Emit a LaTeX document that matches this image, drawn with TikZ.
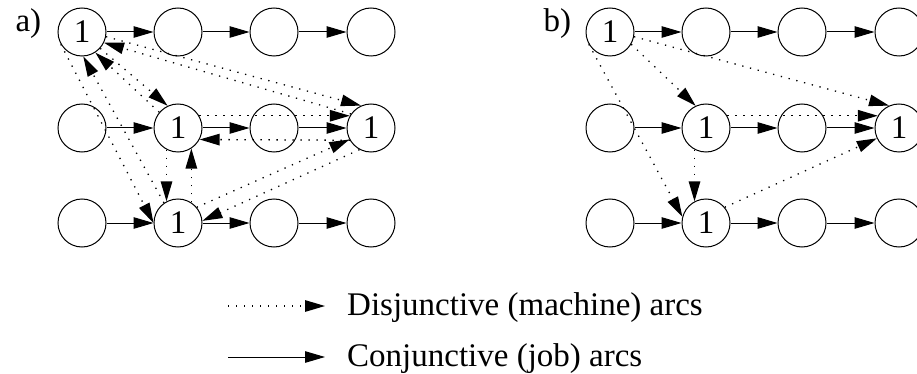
\documentclass[tikz,border=0pt]{standalone}
\usepackage{fontspec}
\setmainfont{Liberation Serif}
\usetikzlibrary{arrows.meta}

\begin{document}
\begin{tikzpicture}[x=1pt, y=-1pt, font=\fontsize{33}{40}\selectfont,
		opnode/.style={draw, circle, line width=1pt, minimum size=48pt, inner sep=0pt},
		jobarc/.style={line width=1pt, -{Triangle[length=20pt, width=11.5pt]}},
		macharc/.style={jobarc, line width=1.3pt, dash pattern=on 1.3pt off 6.7pt}]
		\useasboundingbox (0, 0) rectangle (917, 374);
		\clip (0, 0) rectangle (917, 374);

		\node[anchor=base west] (la) at (12, 32) {a)};
		\node[anchor=base west] (lb) at (540, 32) {b)};

		\foreach \g/\dx in {a/0, b/528} {
			\node[opnode] (\g11) at (82+\dx, 32) {1};
			\node[opnode] (\g12) at (178+\dx, 32) {};
			\node[opnode] (\g13) at (274+\dx, 32) {};
			\node[opnode] (\g14) at (371+\dx, 32) {};
			\node[opnode] (\g21) at (82+\dx, 128) {};
			\node[opnode] (\g22) at (178+\dx, 128) {1};
			\node[opnode] (\g23) at (274+\dx, 128) {};
			\node[opnode] (\g24) at (371+\dx, 128) {1};
			\node[opnode] (\g31) at (82+\dx, 223) {};
			\node[opnode] (\g32) at (178+\dx, 223) {1};
			\node[opnode] (\g33) at (274+\dx, 223) {};
			\node[opnode] (\g34) at (371+\dx, 223) {};
		}

		\foreach \g in {a, b}
		\foreach \r in {1, 2, 3}
		\foreach \c/\n in {1/2, 2/3, 3/4}
		\draw[jobarc] (\g\r\c) -- (\g\r\n);

		% a) both directions
		\draw[macharc] (a11.-11) -- (a24.114);
		\draw[macharc] (a24.145) -- (a11.-26);
		\draw[macharc] (a11.-42) -- (a22.115);
		\draw[macharc] (a22.140) -- (a11.-57);
		\draw[macharc] (a11.-150) -- (a32.180);
		\draw[macharc] (a32.125) -- (a11.-87);
		\draw[macharc] (a22.30) -- (a24.150);
		\draw[macharc] (a24.-150) -- (a22.-28);
		\draw[macharc] (a22.-118) -- (a32.118);
		\draw[macharc] (a32.57) -- (a22.-57);
		\draw[macharc] (a32.40) -- (a24.-152);
		\draw[macharc] (a24.-118) -- (a32.5);

		% b) one direction
		\draw[macharc] (b11.-11) -- (b24.114);
		\draw[macharc] (b11.-30) -- (b22.115);
		\draw[macharc] (b11.-150) -- (b32.165);
		\draw[macharc] (b22.30) -- (b24.150);
		\draw[macharc] (b22.-118) -- (b32.118);
		\draw[macharc] (b32.40) -- (b24.-155);

		\coordinate (d0) at (228, 306);
		\coordinate (d1) at (325, 306);
		\coordinate (c0) at (228, 357);
		\coordinate (c1) at (325, 357);
		\draw[macharc] (d0) -- (d1);
		\draw[jobarc] (c0) -- (c1);
		\node[anchor=base west, inner sep=0pt] (dtext) at (347, 315) {Disjunctive (machine) arcs};
		\node[anchor=base west, inner sep=0pt] (ctext) at (347, 366) {Conjunctive (job) arcs};

	\end{tikzpicture}
\end{document}
